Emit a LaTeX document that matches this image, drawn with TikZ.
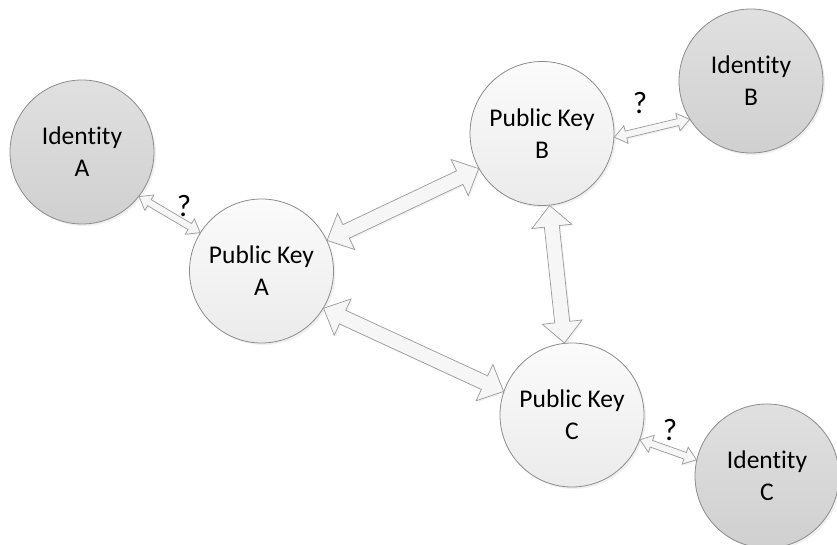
\documentclass[tikz,border=0pt]{standalone}
\usepackage{fontspec}
\setmainfont{Carlito}[Ligatures=NoCommon]
\usetikzlibrary{calc,shadows}

\definecolor{rimgray}{HTML}{8C8C8C}
\definecolor{idtop}{HTML}{E0E0E0}
\definecolor{idbot}{HTML}{D0D0D0}
\definecolor{pktop}{HTML}{FBFBFB}
\definecolor{pkbot}{HTML}{EBEBEB}
\definecolor{arrfill}{HTML}{F6F6F6}
\definecolor{arredge}{HTML}{9A9A9A}

\tikzset{
  entity/.style={circle, minimum size=144pt, inner sep=0pt, draw=rimgray,
    line width=0.8pt, align=center, font=\fontsize{25.5}{32}\selectfont,
    drop shadow={opacity=0.12, shadow xshift=2pt, shadow yshift=-2pt}},
  identity/.style={entity, top color=idtop, bottom color=idbot},
  pubkey/.style={entity, top color=pktop, bottom color=pkbot},
  link/.style={draw=arredge, fill=arrfill, line width=0.7pt, line join=miter,
    drop shadow={opacity=0.10, shadow xshift=1.5pt, shadow yshift=-1.5pt}},
  query/.style={font=\fontsize{31}{33}\selectfont, inner sep=0pt}
}

% Block double arrow between two points:
% #1 style, #2 from, #3 to, #4 shaft half-width, #5 head half-width, #6 head length
\newcommand\linkarrow[6]{%
  \path[#1] let \p1=(#2), \p2=(#3),
      \p3=($(\p1)!#6!(\p2)$), \p4=($(\p2)!#6!(\p1)$) in
    (\p1) -- ($(\p3)!#5!90:(\p2)$) -- ($(\p3)!#4!90:(\p2)$)
    -- ($(\p4)!#4!-90:(\p1)$) -- ($(\p4)!#5!-90:(\p1)$)
    -- (\p2) -- ($(\p4)!#5!90:(\p1)$) -- ($(\p4)!#4!90:(\p1)$)
    -- ($(\p3)!#4!-90:(\p2)$) -- ($(\p3)!#5!-90:(\p2)$) -- cycle;}

\begin{document}
\begin{tikzpicture}[x=1pt, y=-1pt]
  \useasboundingbox (0,0) rectangle (837,545);
  \clip (0,0) rectangle (837,545);

  % entities
  \node[identity] (ida) at (82,152)    {Identity\\A};
  \node[pubkey]   (pka) at (261.5,271) {Public Key\\A};
  \node[pubkey]   (pkb) at (542,133.5) {Public Key\\B};
  \node[identity] (idb) at (751,81)    {Identity\\B};
  \node[pubkey]   (pkc) at (572,415)   {Public Key\\C};
  \node[identity] (idc) at (767,476)   {Identity\\C};

  % trust links between public keys
  \linkarrow{link}{pka.25}{pkb.209}{7.5pt}{20pt}{21pt}
  \linkarrow{link}{pka.-31}{pkc.161}{7.5pt}{20pt}{21pt}
  \linkarrow{link}{pkb.-84}{pkc.96}{7.5pt}{20pt}{21pt}

  % uncertain identity bindings
  \linkarrow{link}{ida.-38}{pka.148}{3.5pt}{9pt}{12pt}
  \linkarrow{link}{pkb.-3}{idb.212}{3.5pt}{9pt}{12pt}
  \linkarrow{link}{pkc.-20}{idc.167}{3.5pt}{9pt}{12pt}

  % question marks
  \node[query] (qa) at (184,206) {?};
  \node[query] (qb) at (640,103) {?};
  \node[query] (qc) at (670,430) {?};
\end{tikzpicture}
\end{document}
